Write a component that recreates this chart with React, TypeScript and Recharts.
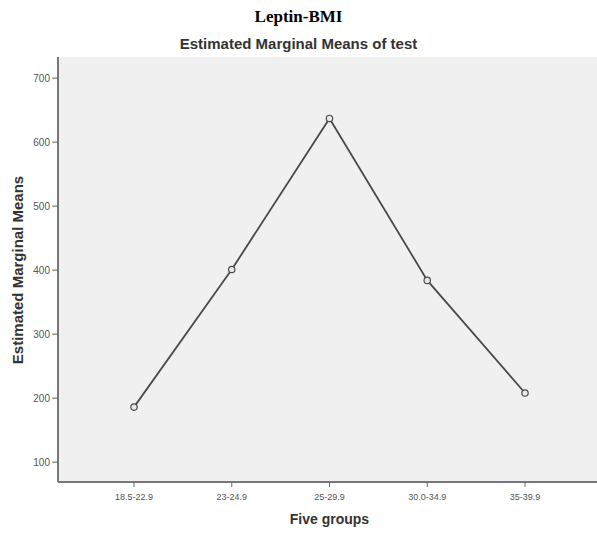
import React from 'react';
import { LineChart, Line, XAxis, YAxis, CartesianGrid, Label } from 'recharts';

const groups = ['18.5-22.9', '23-24.9', '25-29.9', '30.0-34.9', '35-39.9'];
const means = [186, 401, 637, 384, 208];
const yTicks = [100, 200, 300, 400, 500, 600, 700];

const data = groups.map((g, i) => ({ group: g, mean: means[i] }));

const tickStyle = { fontFamily: 'Liberation Sans, Arial, sans-serif', fill: '#555' };

export default function App() {
  return (
    <div style={{ position: 'absolute', left: 0, top: 0, width: 597, height: 535, overflow: 'hidden', background: '#fff' }}>
      <div style={{ position: 'absolute', left: 0, top: 7, width: 597, textAlign: 'center', fontFamily: 'Liberation Serif, Times New Roman, serif', fontWeight: 'bold', fontSize: 17, color: '#000' }}>
        Leptin-BMI
      </div>
      <div style={{ position: 'absolute', left: 0, top: 35, width: 597, textAlign: 'center', fontFamily: 'Liberation Sans, Arial, sans-serif', fontWeight: 'bold', fontSize: 15, color: '#333' }}>
        Estimated Marginal Means of test
      </div>
      <LineChart width={601} height={535} data={data} margin={{ top: 57, right: 0, bottom: 0, left: 0 }}>
        <CartesianGrid horizontal={false} vertical={false} fill="#f0f0f0" />
        <XAxis
          xAxisId="top"
          dataKey="group"
          orientation="top"
          height={0}
          tick={false}
          tickLine={false}
          axisLine={{ stroke: '#888', strokeWidth: 2 }}
          padding={{ left: 76, right: 76 }}
        />
        <XAxis
          dataKey="group"
          height={53}
          padding={{ left: 76, right: 76 }}
          interval={0}
          tickSize={5}
          tickMargin={7}
          tick={{ ...tickStyle, fontSize: 9 }}
          tickLine={{ stroke: '#666' }}
          axisLine={{ stroke: '#777', strokeWidth: 2 }}
        >
          <Label
            value="Five groups"
            position="insideBottom"
            offset={11}
            style={{ fontFamily: 'Liberation Sans, Arial, sans-serif', fontWeight: 'bold', fontSize: 14, fill: '#333' }}
          />
        </XAxis>
        <YAxis
          width={58}
          type="number"
          domain={[69, 733]}
          ticks={yTicks}
          allowDataOverflow
          tickSize={6}
          tickMargin={2}
          tick={{ ...tickStyle, fontSize: 10 }}
          tickLine={{ stroke: '#666' }}
          axisLine={{ stroke: '#777', strokeWidth: 2 }}
        >
          <Label
            content={() => (
              <text
                x={17}
                y={270}
                transform="rotate(-90 17 270)"
                textAnchor="middle"
                dominantBaseline="central"
                style={{ fontFamily: 'Liberation Sans, Arial, sans-serif', fontWeight: 'bold', fontSize: 15, fill: '#333' }}
              >
                Estimated Marginal Means
              </text>
            )}
          />
        </YAxis>
        <Line
          dataKey="mean"
          stroke="#4a4a4a"
          strokeWidth={1.8}
          isAnimationActive={false}
          dot={{ r: 3.2, stroke: '#4a4a4a', strokeWidth: 1.2, fill: '#e8e8e8' }}
          activeDot={false}
        />
      </LineChart>
    </div>
  );
}
